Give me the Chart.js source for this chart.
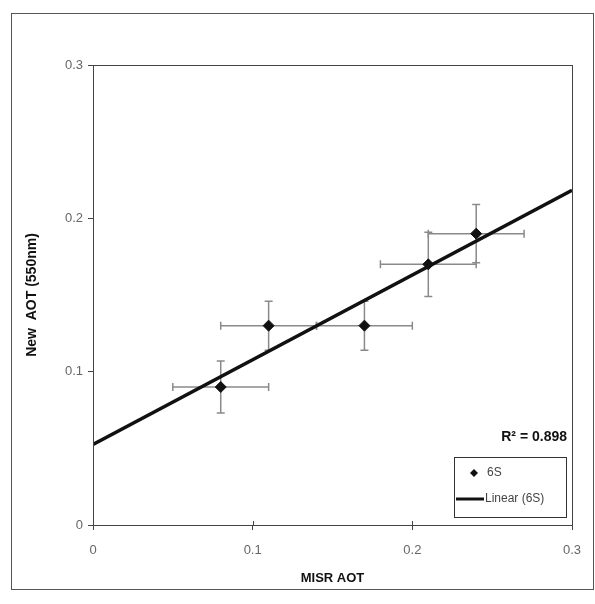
<!DOCTYPE html>
<html>
<head>
<meta charset="utf-8">
<script src="https://cdn.jsdelivr.net/npm/chart.js@4/dist/chart.umd.min.js"></script>
<style>
  html, body { margin: 0; padding: 0; background: #fff; }
  #wrap { width: 595px; height: 604px; }
</style>
</head>
<body>
<div id="wrap"><canvas id="scatter" width="595" height="604"></canvas></div>
<script>
// MISR AOT vs new (6S) AOT at 550nm
const misrAot = [0.08, 0.11, 0.17, 0.21, 0.24];
const newAot = [0.09, 0.13, 0.13, 0.17, 0.19];
const misrErr = [0.03, 0.03, 0.03, 0.03, 0.03];
const newErr = [0.017, 0.016, 0.016, 0.021, 0.019];

// linear trend (6S) end points
const trendX = [0, 0.3];
const trendY = [0.0525, 0.2183];
const rSquared = '0.898';

const xTickLabels = ['0', '0.1', '0.2', '0.3'];
const yTickLabels = ['0', '0.1', '0.2', '0.3'];

const tickFont = { family: 'Liberation Sans, Arial, sans-serif', size: 13 };
const xTitleFont = { family: 'Liberation Sans, Arial, sans-serif', size: 13, weight: 'bold' };
const yTitleFont = { family: 'Liberation Sans, Arial, sans-serif', size: 14, weight: 'bold' };

const errorBars = {
  id: 'errorBars',
  beforeDatasetsDraw(chart) {
    const { ctx, scales: { x, y } } = chart;
    ctx.save();
    ctx.strokeStyle = '#8a8a8a';
    ctx.lineWidth = 1.5;
    misrAot.forEach((mx, i) => {
      const px = x.getPixelForValue(mx);
      const py = y.getPixelForValue(newAot[i]);
      const x0 = x.getPixelForValue(mx - misrErr[i]);
      const x1 = x.getPixelForValue(mx + misrErr[i]);
      const y0 = y.getPixelForValue(newAot[i] - newErr[i]);
      const y1 = y.getPixelForValue(newAot[i] + newErr[i]);
      ctx.beginPath();
      ctx.moveTo(x0, py); ctx.lineTo(x1, py);
      ctx.moveTo(x0, py - 4); ctx.lineTo(x0, py + 4);
      ctx.moveTo(x1, py - 4); ctx.lineTo(x1, py + 4);
      ctx.moveTo(px, y0); ctx.lineTo(px, y1);
      ctx.moveTo(px - 4, y0); ctx.lineTo(px + 4, y0);
      ctx.moveTo(px - 4, y1); ctx.lineTo(px + 4, y1);
      ctx.stroke();
    });
    ctx.restore();
  }
};

const frameAndLegend = {
  id: 'frameAndLegend',
  beforeDraw(chart) {
    const { ctx } = chart;
    ctx.save();
    ctx.strokeStyle = '#555';
    ctx.lineWidth = 1;
    ctx.strokeRect(11.5, 13.5, 582, 576);
    ctx.restore();
  },
  afterDraw(chart) {
    const { ctx, chartArea: a, scales: { x } } = chart;
    ctx.save();
    // plot border
    ctx.strokeStyle = '#444';
    ctx.lineWidth = 1;
    ctx.strokeRect(a.left + 0.5, a.top + 0.5, a.right - a.left, a.bottom - a.top);

    // x ticks also poke a little into the plot
    ctx.beginPath();
    xTickLabels.forEach((t, i) => {
      const px = Math.round(x.getPixelForValue(i * 0.1)) + 0.5;
      ctx.moveTo(px, a.bottom); ctx.lineTo(px, a.bottom - 4);
    });
    ctx.stroke();

    // R squared
    ctx.fillStyle = '#111';
    ctx.font = 'bold 14px Liberation Sans, Arial, sans-serif';
    ctx.textAlign = 'right';
    ctx.textBaseline = 'middle';
    ctx.fillText('R\u00b2 = ' + rSquared, a.right - 5, a.top + 372);

    // legend box
    const bx = a.left + 361, by = a.top + 392, bw = 112, bh = 60;
    ctx.fillStyle = '#fff';
    ctx.fillRect(bx, by, bw, bh);
    ctx.strokeStyle = '#333';
    ctx.strokeRect(bx + 0.5, by + 0.5, bw, bh);
    const ds = chart.data.datasets;
    ctx.font = '12px Liberation Sans, Arial, sans-serif';
    ctx.textAlign = 'left';
    // marker entry
    ctx.fillStyle = '#111';
    ctx.beginPath();
    const mx = bx + 20, my = by + 16;
    ctx.moveTo(mx, my - 4); ctx.lineTo(mx + 4, my); ctx.lineTo(mx, my + 4); ctx.lineTo(mx - 4, my);
    ctx.closePath();
    ctx.fill();
    ctx.fillStyle = '#444';
    ctx.fillText(ds[0].label, bx + 33, my);
    // line entry
    const ly = by + 42;
    ctx.strokeStyle = '#111';
    ctx.lineWidth = 3;
    ctx.beginPath();
    ctx.moveTo(bx + 2, ly); ctx.lineTo(bx + 30, ly);
    ctx.stroke();
    ctx.fillText(ds[1].label, bx + 31, ly);
    ctx.restore();
  }
};

new Chart(document.getElementById('scatter'), {
  type: 'scatter',
  data: {
    datasets: [
      {
        label: '6S',
        data: misrAot.map((v, i) => ({ x: v, y: newAot[i] })),
        pointStyle: 'rectRot',
        pointRadius: 5.5,
        backgroundColor: '#111',
        borderColor: '#111',
        order: 2
      },
      {
        label: 'Linear (6S)',
        type: 'line',
        data: trendX.map((v, i) => ({ x: v, y: trendY[i] })),
        borderColor: '#111',
        borderWidth: 3.5,
        pointRadius: 0,
        fill: false,
        order: 1
      }
    ]
  },
  options: {
    responsive: false,
    animation: false,
    layout: { padding: { left: 0, top: 65, right: 23, bottom: 0 } },
    plugins: {
      legend: { display: false },
      tooltip: { enabled: false }
    },
    scales: {
      x: {
        type: 'linear',
        min: 0,
        max: 0.3,
        afterFit(scale) { scale.height = 79; },
        ticks: {
          stepSize: 0.1,
          color: '#666',
          font: tickFont,
          padding: 13,
          callback: (v, i) => xTickLabels[i]
        },
        grid: { drawOnChartArea: false, tickLength: 5, color: '#444' },
        border: { display: true, color: '#444' },
        title: { display: true, text: 'MISR AOT', color: '#111', font: xTitleFont, padding: { top: 0, bottom: 18 } }
      },
      y: {
        type: 'linear',
        min: 0,
        max: 0.3,
        afterFit(scale) { scale.width = 93; },
        ticks: {
          stepSize: 0.1,
          color: '#666',
          font: tickFont,
          padding: 5,
          callback: (v, i) => yTickLabels[i]
        },
        grid: { drawOnChartArea: false, tickLength: 5, color: '#444' },
        border: { display: true, color: '#444' },
        title: { display: true, text: 'New  AOT (550nm)', color: '#111', font: yTitleFont, padding: { top: 24, bottom: 0 } }
      }
    }
  },
  plugins: [errorBars, frameAndLegend]
});
</script>
</body>
</html>
